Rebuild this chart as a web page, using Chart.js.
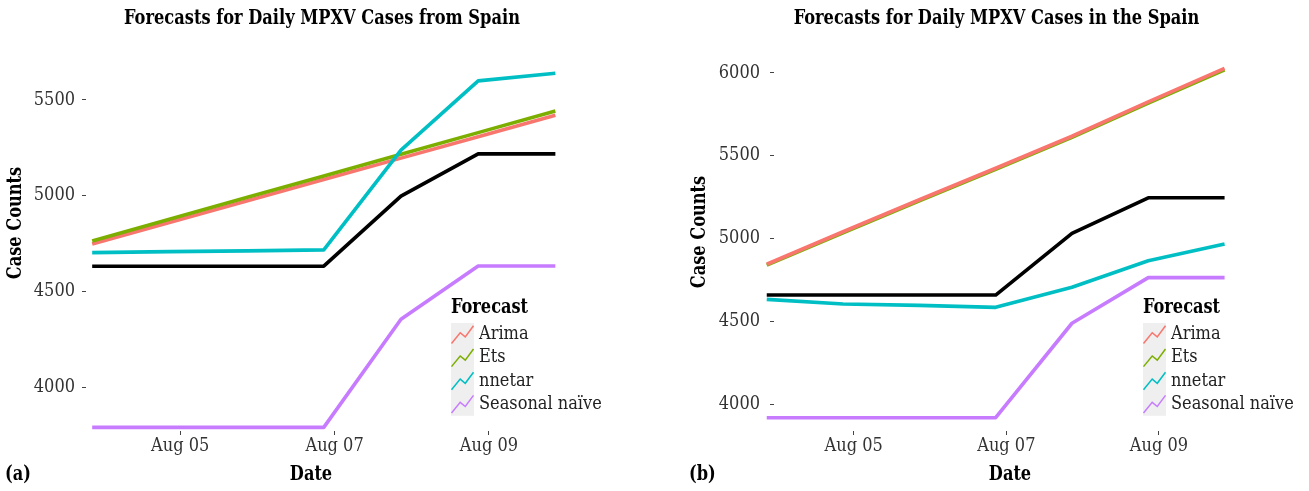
<!DOCTYPE html>
<html>
<head>
<meta charset="utf-8">
<script src="https://cdn.jsdelivr.net/npm/chart.js@4.4.1/dist/chart.umd.min.js"></script>
<style>
  html, body { margin: 0; padding: 0; background: #ffffff; }
  body { width: 1309px; height: 491px; position: relative; overflow: hidden; }
  canvas { position: absolute; top: 0; }
  #panelA { left: 0; }
  #panelB { left: 655px; }
</style>
</head>
<body>
<canvas id="panelA" width="655" height="491"></canvas>
<canvas id="panelB" width="654" height="491"></canvas>
<script>
// Forecast days (fractional day of August for each forecast step)
const dayOffsets = [3.86, 4.86, 5.86, 6.86, 7.86, 8.86, 9.86];
const dateTickValues = [5, 7, 9];
const dateTickLabels = ['Aug 05', 'Aug 07', 'Aug 09'];
const countTicksA = [4000, 4500, 5000, 5500];
const countTicksB = [4000, 4500, 5000, 5500, 6000];

const seriesNames = ['Arima', 'Ets', 'nnetar', 'Seasonal naïve'];
const actualName = 'Actual';

// Panel (a): forecasts from Spain
const actualA  = [4632, 4632, 4632, 4632, 4998, 5218, 5218];
const arimaA   = [4748, 4860, 4972, 5084, 5196, 5308, 5420];
const etsA     = [4764, 4877, 4990, 5103, 5216, 5329, 5442];
const nnetarA  = [4703, 4708, 4712, 4717, 5238, 5599, 5639];
const snaiveA  = [3791, 3791, 3791, 3791, 4355, 4633, 4633];

// Panel (b): forecasts in the Spain
const actualB  = [4660, 4660, 4660, 4660, 5032, 5247, 5247];
const arimaB   = [4846, 5042, 5235, 5425, 5618, 5826, 6028];
const etsB     = [4841, 5036, 5229, 5419, 5611, 5818, 6018];
const nnetarB  = [4634, 4606, 4598, 4586, 4707, 4867, 4968];
const snaiveB  = [3920, 3920, 3920, 3920, 4490, 4765, 4765];

const titleA = 'Forecasts for Daily MPXV Cases from Spain';
const titleB = 'Forecasts for Daily MPXV Cases in the Spain';
const xTitle = 'Date';
const yTitle = 'Case Counts';
const legendTitle = 'Forecast';

const colors = {
  'Arima': '#F8766D',
  'Ets': '#7CAE00',
  'nnetar': '#00BFC4',
  'Seasonal naïve': '#C77CFF',
  'Actual': '#000000'
};

const FAMILY = "'DejaVu Serif Condensed', 'DejaVu Serif', serif";

function toPoints(values) {
  return values.map((v, i) => ({ x: dayOffsets[i], y: v }));
}

function lineSet(label, values, order) {
  return {
    label: label,
    data: toPoints(values),
    borderColor: colors[label],
    backgroundColor: colors[label],
    borderWidth: 3.6,
    pointRadius: 0,
    pointHoverRadius: 0,
    tension: 0,
    fill: false,
    clip: false,
    borderJoinStyle: 'round',
    order: order
  };
}

// Condensed bold text: taller glyphs squeezed horizontally
function condensedText(ctx, text, x, y, size, squeeze, align) {
  ctx.save();
  ctx.font = "bold " + size + "px " + FAMILY;
  ctx.textAlign = align;
  ctx.translate(x, y);
  ctx.scale(squeeze, 1);
  ctx.fillText(text, 0, 0);
  ctx.restore();
}

// Draws titles, panel tag and the "Forecast" key box
const decorPlugin = {
  id: 'decor',
  afterDraw(chart, args, opts) {
    const ctx = chart.ctx;
    ctx.save();
    ctx.fillStyle = '#000';
    ctx.textBaseline = 'middle';

    condensedText(ctx, opts.title, opts.titleX, 19, 21, 0.86, 'center');
    condensedText(ctx, xTitle, opts.dateX, 475, 20, 0.9, 'center');
    condensedText(ctx, opts.tag, opts.tagX, 475, 20, 0.9, 'left');

    ctx.save();
    ctx.translate(opts.yTitleX, opts.yTitleY);
    ctx.rotate(-Math.PI / 2);
    condensedText(ctx, yTitle, 0, 0, 20, 0.9, 'center');
    ctx.restore();

    // key
    const kx = opts.legendX, ky = 323, kw = 23, rowH = 23.2;
    condensedText(ctx, legendTitle, kx, 308, 20, 0.9, 'left');
    ctx.fillStyle = '#EFEFEF';
    ctx.fillRect(kx, ky, kw, rowH * seriesNames.length);
    ctx.font = "18px " + FAMILY;
    ctx.textAlign = 'left';
    seriesNames.forEach((name, i) => {
      const top = ky + i * rowH;
      ctx.strokeStyle = colors[name];
      ctx.lineWidth = 1.5;
      ctx.beginPath();
      ctx.moveTo(kx + 0.5, top + rowH * 0.88);
      ctx.lineTo(kx + kw * 0.4, top + rowH * 0.42);
      ctx.lineTo(kx + kw * 0.62, top + rowH * 0.6);
      ctx.lineTo(kx + kw - 0.5, top + rowH * 0.12);
      ctx.stroke();
      ctx.fillStyle = '#222';
      ctx.fillText(name, kx + kw + 5, top + rowH / 2);
    });
    ctx.restore();
  }
};

function makeChart(id, cfg) {
  const yAxisWidth = cfg.chartLeft;
  return new Chart(document.getElementById(id), {
    type: 'line',
    data: { datasets: cfg.datasets },
    plugins: [decorPlugin],
    options: {
      responsive: false,
      animation: false,
      events: [],
      layout: { padding: { left: 0, top: 60, right: cfg.padRight, bottom: 0 } },
      plugins: {
        legend: { display: false },
        tooltip: { enabled: false },
        title: { display: false },
        decor: cfg.decor
      },
      scales: {
        x: {
          type: 'linear',
          min: cfg.xMin,
          max: cfg.xMax,
          afterBuildTicks(scale) { scale.ticks = dateTickValues.map(v => ({ value: v })); },
          afterFit(scale) { scale.height = 60; },
          border: { display: false },
          grid: { display: true, drawOnChartArea: false, drawTicks: true, tickLength: 4, tickColor: '#444', lineWidth: 1 },
          ticks: {
            padding: 1,
            maxRotation: 0,
            autoSkip: false,
            color: '#333',
            font: { family: FAMILY, size: 18 },
            callback: (v) => dateTickLabels[dateTickValues.indexOf(v)]
          }
        },
        y: {
          type: 'linear',
          min: cfg.yMin,
          max: cfg.yMax,
          afterBuildTicks(scale) { scale.ticks = cfg.yTicks.map(v => ({ value: v })); },
          afterFit(scale) { scale.width = yAxisWidth; },
          border: { display: false },
          grid: { display: true, drawOnChartArea: false, drawTicks: true, tickLength: 4, tickColor: '#444', lineWidth: 1 },
          ticks: {
            padding: cfg.yPad,
            color: '#333',
            font: { family: FAMILY, size: 18 },
            callback: (v) => String(v)
          }
        }
      }
    }
  });
}

makeChart('panelA', {
  chartLeft: 86,
  padRight: 95,
  xMin: 3.78, xMax: 9.92,
  yMin: 3772, yMax: 5708,
  yTicks: countTicksA,
  yPad: 7,
  datasets: [
    lineSet(actualName, actualA, 0),
    lineSet('nnetar', nnetarA, 1),
    lineSet('Ets', etsA, 2),
    lineSet('Arima', arimaA, 3),
    lineSet('Seasonal naïve', snaiveA, 4)
  ],
  decor: { title: titleA, titleX: 322, dateX: 311, tag: '(a)', tagX: 5, yTitleX: 16, yTitleY: 223, legendX: 451 }
});

makeChart('panelB', {
  chartLeft: 119,
  padRight: 80,
  xMin: 3.955, xMax: 9.918,
  yMin: 3840, yMax: 6078,
  yTicks: countTicksB,
  yPad: 10,
  datasets: [
    lineSet(actualName, actualB, 0),
    lineSet('nnetar', nnetarB, 1),
    lineSet('Arima', arimaB, 2),
    lineSet('Ets', etsB, 3),
    lineSet('Seasonal naïve', snaiveB, 4)
  ],
  decor: { title: titleB, titleX: 341.5, dateX: 355, tag: '(b)', tagX: 34, yTitleX: 45, yTitleY: 232, legendX: 488 }
});
</script>
</body>
</html>
